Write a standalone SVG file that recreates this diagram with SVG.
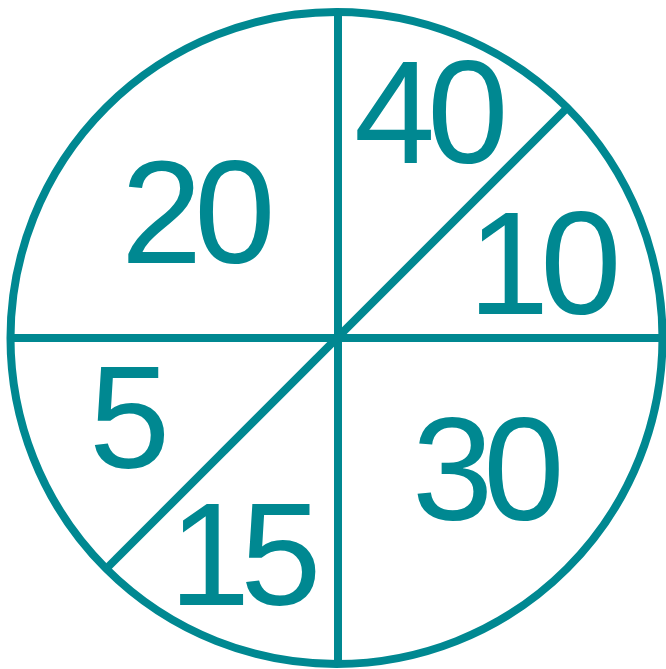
<svg xmlns="http://www.w3.org/2000/svg" width="666" height="669" viewBox="0 0 666 669">
<style>
.ln{stroke:#008891;stroke-width:8;fill:none}
.lb{font-family:"Liberation Sans",Arial,sans-serif;font-size:146px;fill:#008891;letter-spacing:-8px}
</style>
<rect width="666" height="669" fill="#fff"/>
<g id="connectors">
<circle class="ln" cx="336.5" cy="338" r="326"/>
<line class="ln" x1="338" y1="12" x2="338" y2="664"/>
<line class="ln" x1="11" y1="338" x2="662" y2="338"/>
<line class="ln" x1="567.5" y1="107.5" x2="106.5" y2="568.5"/>
</g>
<g id="n20"><text class="lb" x="121" y="263">20</text></g>
<g id="n40"><text class="lb" x="354" y="163">40</text></g>
<g id="n10"><text class="lb" x="468" y="314" style="letter-spacing:-9px">10</text></g>
<g id="n5"><text class="lb" x="89" y="468">5</text></g>
<g id="n15"><text class="lb" x="169" y="605" style="letter-spacing:-10px">15</text></g>
<g id="n30"><text class="lb" x="412" y="520" style="letter-spacing:-10px">30</text></g>
</svg>
